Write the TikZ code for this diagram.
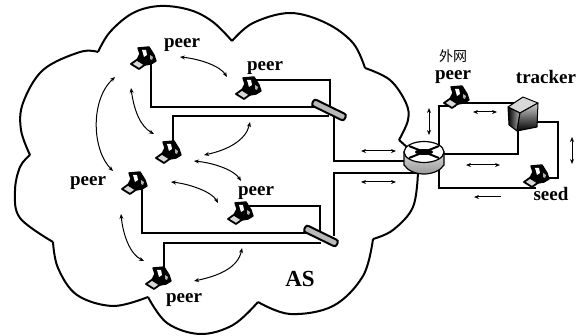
\documentclass[tikz,border=0pt]{standalone}
\usepackage{fontspec}
\setmainfont{Liberation Serif}
\newfontfamily\cjkfont{Noto Sans CJK SC}
\usetikzlibrary{arrows.meta,shapes.geometric}
\tikzset{
  cloudline/.style={line width=2pt,black,line join=miter},
  link/.style={line width=1.5pt,black,line join=miter},
  dbl/.style={line width=1pt,{Stealth[length=5pt,width=4pt]}-{Stealth[length=5pt,width=4pt]}},
  sgl/.style={line width=1pt,{Stealth[length=5pt,width=4pt]}-},
  anchorbox/.style={inner sep=0pt,minimum width=26pt,minimum height=22pt},
  lab/.style={inner sep=0pt,font=\fontsize{19}{20}\bfseries\selectfont},
  pc/.pic={
    \fill[black!15,draw=black,line width=1.8pt,line join=round] (-12,6)--(-5,1)--(3,6)--(-4,11)--cycle;
    \fill[black,line join=round,draw=black,line width=1.4pt] (-5,-10)--(6,-11)--(11,-3)--(13,3)--(8,6)--(2,7)--(-6,2)--(-3,-4)--cycle;
    \fill[white] (-1,-8)--(3,-8)--(4,-3)--(1,-1)--cycle;
    \fill[gray!60] (7,-3)--(10,-1)--(9,2)--(7,1)--cycle;
  },
  trackerpic/.pic={
    \fill[gray!30,draw=black,line width=1pt,line join=round] (0,-17)--(15,-11)--(-3,-1)--(-15,-7)--cycle;
    \shade[left color=black,right color=gray!60,draw=black,line width=1pt,line join=round] (-15,-7)--(-3,-1)--(-6,17)--(-14,11)--cycle;
    \shade[top color=gray!35,bottom color=black,draw=black,line width=1pt,line join=round] (-3,-1)--(15,-11)--(14,13)--(-6,17)--cycle;
  }
}
\begin{document}
\begin{tikzpicture}[x=1pt,y=-1pt]
\useasboundingbox (0,0) rectangle (586,336);
% cloud outline
\draw[cloudline] plot[smooth,tension=.6] coordinates {(98,52) (110,32) (133,13) (160,6) (190,10) (213,22) (232,41)};
\draw[cloudline] plot[smooth,tension=.6] coordinates {(232,41) (253,23) (290,13) (326,23) (353,43) (365,68)};
\draw[cloudline] plot[smooth,tension=.6] coordinates {(365,68) (390,80) (406,103) (408,120) (399,140)};
\draw[cloudline] (399,140) -- (408,148);
\draw[cloudline] plot[smooth,tension=.6] coordinates {(418,172) (413,207) (393,230) (373,239)};
\draw[cloudline] plot[smooth,tension=.6] coordinates {(373,239) (363,276) (333,306) (290,314) (258,302)};
\draw[cloudline] plot[smooth,tension=.6] coordinates {(258,302) (233,325) (200,334) (167,323) (148,297)};
\draw[cloudline] plot[smooth,tension=.6] coordinates {(148,297) (113,306) (77,295) (58,268) (53,242)};
\draw[cloudline] plot[smooth,tension=.6] coordinates {(53,242) (20,218) (15,191) (20,167) (30,155)};
\draw[cloudline] plot[smooth,tension=.6] coordinates {(30,155) (21,130) (23,103) (43,70) (80,52) (98,52)};
% device nodes
\node[anchorbox] (pc1) at (143,58) {};
\node[anchorbox] (pc2) at (248,88) {};
\node[anchorbox] (pc3) at (168,152) {};
\node[anchorbox] (pc4) at (134,183) {};
\node[anchorbox] (pc5) at (240,213) {};
\node[anchorbox] (pc6) at (158,278) {};
\node[anchorbox] (pc7) at (456,97) {};
\node[anchorbox] (seed) at (536,176) {};
\node[anchorbox] (tracker) at (523,114) {};
\node[inner sep=0pt,minimum width=37pt,minimum height=9pt] (sw1) at (329,110) {};
\node[inner sep=0pt,minimum width=37pt,minimum height=9pt] (sw2) at (321,236) {};
\node[inner sep=0pt,minimum width=40pt,minimum height=34pt] (router) at (424,158) {};
\coordinate (trk) at (558,150);
% connectors
\draw[link] ([xshift=8]pc1.center) |- ([yshift=3]sw1.center);
\draw[link] ([yshift=8]pc2.center) -| ([xshift=1]sw1.center);
\draw[link] ([xshift=5]pc3.center) |- ([yshift=-6]sw1.center);
\draw[link] ([xshift=5]sw1.center) |- ([yshift=-3]router.center);
\draw[link] ([xshift=13]sw2.center) |- ([yshift=-15]router.center);
\draw[link] ([xshift=8]pc4.center) |- ([yshift=3]sw2.center);
\draw[link] ([yshift=7]pc5.center) -| ([xshift=-1]sw2.center);
\draw[link] ([xshift=6]pc6.center) |- ([yshift=-7]sw2.center);
\draw[link] ([xshift=15]router.center) |- ([yshift=-9]pc7.center);
\draw[link] ([yshift=-6]pc7.center) -- ([yshift=11]tracker.center);
\draw[link] ([yshift=4]router.center) -| ([xshift=-5]tracker.center);
\draw[link] ([yshift=-8]tracker.center) -| (trk) |- ([yshift=-2]seed.center);
\draw[link] ([xshift=15]router.center) |- ([yshift=-12]seed.center);
% device drawings
\foreach \n in {pc1,pc2,pc3,pc4,pc5,pc6,pc7,seed} \pic at (\n.center) {pc};
\pic at (tracker.center) {trackerpic};
\foreach \n in {sw1,sw2}
  \path[draw=black,fill=gray!55,line width=2pt,rounded corners=2.5pt,rotate around={-26:(\n.center)}]
    ([shift={(-18,-3.5)}]\n.center) rectangle ([shift={(18,3.5)}]\n.center);
% router
\shade[top color=gray!30,bottom color=gray!80,draw=black,line width=1.2pt]
  (404,152) -- (404,165) .. controls (408,171) and (416,174) .. (424,174) .. controls (432,174) and (440,171) .. (444,165) -- (444,152) -- cycle;
\fill[white,draw=black,line width=1.2pt] (424,152) ellipse[x radius=20,y radius=10.5];
\draw[line width=2pt] (409,146) -- (439,158);
\draw[line width=2pt] (409,158) -- (439,146);
\fill[black] (424,152) ellipse[x radius=9,y radius=3];
% straight arrows
\coordinate (a1s) at (361,151); \coordinate (a1e) at (396,151);
\coordinate (a2s) at (361,182); \coordinate (a2e) at (396,182);
\coordinate (a3s) at (429,108); \coordinate (a3e) at (429,135);
\coordinate (a4s) at (473,112); \coordinate (a4e) at (497,112);
\coordinate (a5s) at (466,165); \coordinate (a5e) at (500,165);
\coordinate (a6s) at (474,197); \coordinate (a6e) at (501,197);
\coordinate (a7s) at (572,137); \coordinate (a7e) at (572,164);
\draw[dbl] (a1s) -- (a1e);
\draw[dbl] (a2s) -- (a2e);
\draw[dbl] (a3s) -- (a3e);
\draw[dbl] (a4s) -- (a4e);
\draw[dbl] (a5s) -- (a5e);
\draw[sgl] (a6s) -- (a6e);
\draw[dbl] (a7s) -- (a7e);
% curved arrows
\coordinate (c1s) at (180,57); \coordinate (c1e) at (227,77);
\coordinate (c2s) at (115,77); \coordinate (c2e) at (113,171);
\coordinate (c3s) at (131,88); \coordinate (c3e) at (154,134);
\coordinate (c4s) at (250,122); \coordinate (c4e) at (204,155);
\coordinate (c5s) at (194,161); \coordinate (c5e) at (241,181);
\coordinate (c6s) at (171,182); \coordinate (c6e) at (218,203);
\coordinate (c7s) at (121,214); \coordinate (c7e) at (144,261);
\coordinate (c8s) at (242,248); \coordinate (c8e) at (194,281);
\draw[dbl] (c1s) .. controls (200,59) and (220,66) .. (c1e);
\draw[dbl] (c2s) .. controls (90,100) and (92,150) .. (c2e);
\draw[dbl] (c3s) .. controls (134,110) and (140,126) .. (c3e);
\draw[dbl] (c4s) .. controls (246,140) and (228,150) .. (c4e);
\draw[dbl] (c5s) .. controls (214,163) and (234,170) .. (c5e);
\draw[dbl] (c6s) .. controls (190,184) and (212,192) .. (c6e);
\draw[dbl] (c7s) .. controls (123,235) and (130,254) .. (c7e);
\draw[dbl] (c8s) .. controls (238,268) and (218,276) .. (c8e);
% labels
\node[lab] (l1) at (182,45) {peer};
\node[lab] (l2) at (265,68) {peer};
\node[lab] (l3) at (88,183) {peer};
\node[lab] (l4) at (256,193) {peer};
\node[lab] (l5) at (184,300) {peer};
\node[lab] (l6) at (453,77) {peer};
\node[lab] (l7) at (546,77) {tracker};
\node[lab] (l8) at (551,194) {seed};
\node[inner sep=0pt,font=\fontsize{23}{24}\bfseries\selectfont] (l9) at (300,279) {AS};
\node[inner sep=0pt,font=\fontsize{14}{15}\cjkfont] (l10) at (453,56) {外网};
\end{tikzpicture}
\end{document}
